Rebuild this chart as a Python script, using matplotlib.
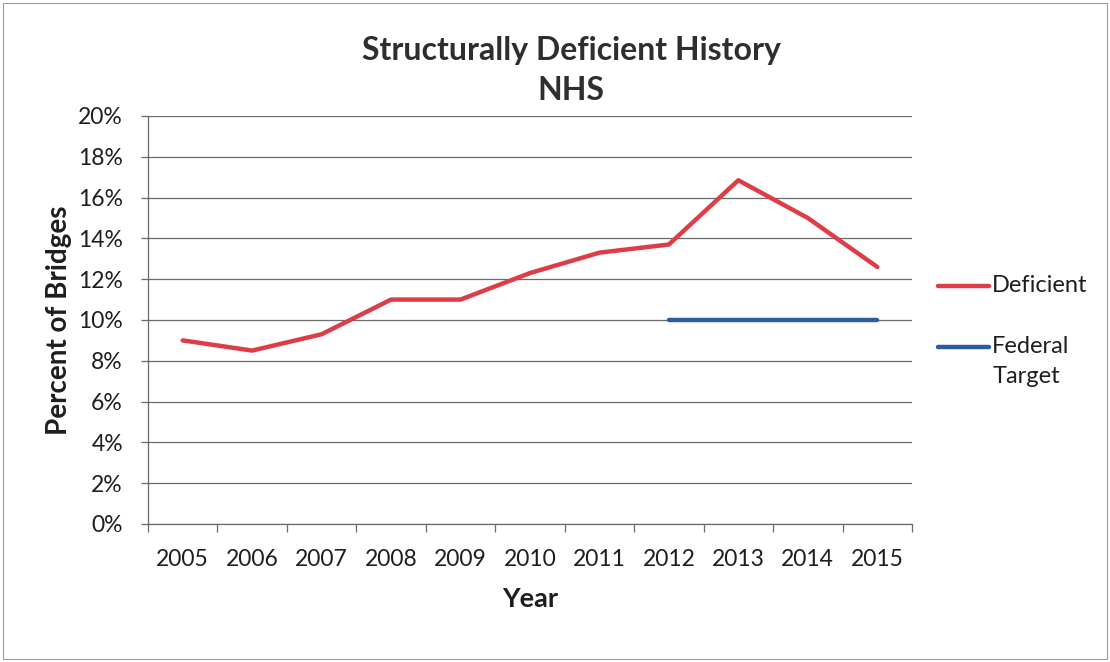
import matplotlib.pyplot as plt
from matplotlib.lines import Line2D
from matplotlib.patches import Rectangle
from matplotlib.ticker import FixedLocator, PercentFormatter
import numpy as np

# Structurally deficient NHS bridges, percent by year
years = ['2005', '2006', '2007', '2008', '2009', '2010',
         '2011', '2012', '2013', '2014', '2015']
deficient = [9.0, 8.5, 9.3, 11.0, 11.0, 12.3, 13.3, 13.7, 16.85, 15.0, 12.6]
target_years = ['2012', '2013', '2014', '2015']
federal_target = [10.0, 10.0, 10.0, 10.0]

red = '#dc3d47'
blue = '#2b5c9e'
grid_col = '#6a6a6a'
txt = '#1e1e1e'

plt.rcParams['font.family'] = ['Lato', 'DejaVu Sans']

fig = plt.figure(figsize=(11.1, 6.62), dpi=100)
ax = fig.add_axes([0.1333, 0.2085, 0.8216 - 0.1333, 0.6163])

x = np.arange(len(years))
xt = [years.index(y) for y in target_years]
ax.plot(x, deficient, color=red, lw=3.2, solid_capstyle='round',
        solid_joinstyle='round', zorder=3)
ax.plot(xt, federal_target, color=blue, lw=3.2, solid_capstyle='round',
        zorder=3)

ax.set_xlim(-0.5, len(years) - 0.5)
ax.set_ylim(0, 20)
ax.set_yticks(np.arange(0, 21, 2))
ax.yaxis.set_major_formatter(PercentFormatter(decimals=0))
ax.yaxis.grid(True, color=grid_col, lw=0.9)
ax.set_axisbelow(True)

ax.set_xticks(x)
ax.set_xticklabels(years)
ax.xaxis.set_minor_locator(FixedLocator(np.arange(-0.5, len(years), 1.0)))
ax.tick_params(axis='x', which='major', length=0, pad=18, labelsize=16.5,
               colors=txt)
ax.tick_params(axis='x', which='minor', length=6, color=grid_col, width=0.9)
ax.tick_params(axis='y', length=5, color=grid_col, width=0.9, labelsize=16.5,
               labelcolor=txt, pad=13)

for s in ['top', 'right']:
    ax.spines[s].set_visible(False)
for s in ['left', 'bottom']:
    ax.spines[s].set_color(grid_col)
    ax.spines[s].set_linewidth(0.9)

ax.set_xlabel('Year', fontsize=19.5, fontweight='bold', labelpad=12,
              color=txt)
ax.set_ylabel('Percent of Bridges', fontsize=20, fontweight='bold',
              labelpad=4, color=txt)
fig.text(0.5145, 0.894, 'Structurally Deficient History\nNHS', ha='center',
         va='center', fontsize=23, fontweight='bold', color='#2e2e2e',
         linespacing=1.45)

# legend drawn by hand on the right side
fig.add_artist(Line2D([0.845, 0.891], [0.568, 0.568], color=red, lw=3.2,
                      solid_capstyle='round', transform=fig.transFigure))
fig.text(0.894, 0.568, 'Deficient', ha='left', va='center', fontsize=17,
         color=txt)
fig.add_artist(Line2D([0.845, 0.891], [0.476, 0.476], color=blue, lw=3.2,
                      solid_capstyle='round', transform=fig.transFigure))
fig.text(0.894, 0.476 + 0.017, 'Federal\nTarget', ha='left', va='top',
         fontsize=17, color=txt, linespacing=1.55)

fig.add_artist(Rectangle((0.003, 0.005), 0.994, 0.99, fill=False,
                         edgecolor='#9a9a9a', lw=0.8,
                         transform=fig.transFigure))

fig.savefig('out.png', dpi=100)
